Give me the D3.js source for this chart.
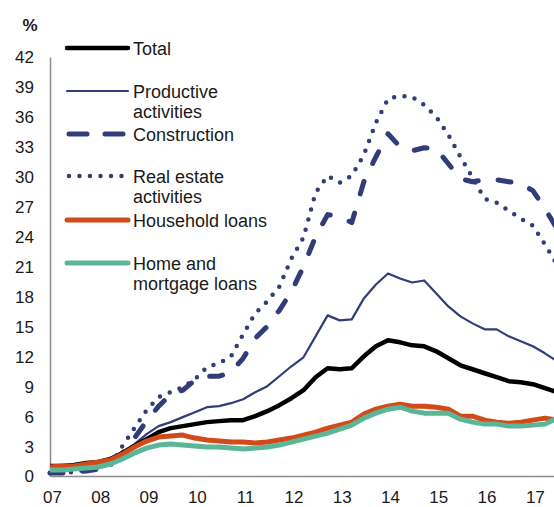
<!DOCTYPE html>
<html>
<head>
<meta charset="utf-8">
<script src="https://cdn.jsdelivr.net/npm/d3@7"></script>
<style>
  body { margin: 0; background: #fff; }
  svg text { font-family: "Liberation Sans", Arial, sans-serif; fill: #1a1a1a; }
</style>
</head>
<body>
<div id="chart"></div>
<script>
// quarterly data, 2007Q1 .. 2017Q3
var yearLabels = ["07", "08", "09", "10", "11", "12", "13", "14", "15", "16", "17"];
var yTicks = [0, 3, 6, 9, 12, 15, 18, 21, 24, 27, 30, 33, 36, 39, 42];

var total = [1.0, 1.0, 1.1, 1.3, 1.4, 1.7, 2.3, 3.0, 3.7, 4.4, 4.8, 5.0, 5.2, 5.4, 5.5, 5.6,
  5.6, 6.0, 6.5, 7.1, 7.8, 8.6, 9.9, 10.8, 10.7, 10.8, 12.0, 13.0, 13.6, 13.4, 13.1, 13.0,
  12.5, 11.8, 11.1, 10.7, 10.3, 9.9, 9.5, 9.4, 9.2, 8.8, 8.4];
var productive = [0.9, 0.9, 1.0, 1.2, 1.4, 1.7, 2.4, 3.2, 4.2, 5.0, 5.4, 5.9, 6.4, 6.9, 7.0, 7.3,
  7.7, 8.4, 9.0, 10.0, 11.0, 11.9, 14.0, 16.1, 15.6, 15.7, 17.8, 19.2, 20.3, 19.8, 19.4, 19.6,
  18.3, 17.0, 16.0, 15.3, 14.7, 14.7, 14.0, 13.5, 13.0, 12.3, 11.5];
var construction = [0.3, 0.3, 0.4, 0.5, 0.7, 1.2, 2.3, 3.8, 5.5, 7.0, 8.2, 8.6, 9.6, 10.0, 10.0, 10.4,
  11.8, 13.8, 15.0, 16.6, 18.5, 21.0, 24.0, 26.2, 26.0, 25.4, 29.5, 32.0, 34.3, 33.0, 32.6, 32.9,
  32.8, 31.3, 29.8, 29.5, 29.7, 29.7, 29.5, 29.3, 28.6, 26.8, 24.8];
var realEstate = [0.3, 0.3, 0.4, 0.6, 1.0, 1.0, 3.0, 4.8, 6.6, 7.9, 8.4, 8.9, 9.7, 10.9, 11.3, 12.0,
  14.2, 16.3, 17.5, 19.0, 21.8, 23.9, 28.4, 30.1, 29.4, 30.1, 32.2, 35.4, 37.8, 38.1, 38.0, 37.2,
  36.0, 34.2, 32.0, 29.9, 27.8, 27.4, 26.6, 25.8, 25.1, 23.2, 21.2];
var household = [0.9, 1.0, 1.0, 1.2, 1.4, 1.6, 2.2, 2.9, 3.5, 3.9, 4.0, 4.1, 3.8, 3.6, 3.5, 3.4,
  3.4, 3.3, 3.4, 3.6, 3.8, 4.1, 4.4, 4.8, 5.1, 5.4, 6.2, 6.7, 7.0, 7.2, 7.0, 7.0,
  6.9, 6.7, 6.0, 6.0, 5.6, 5.4, 5.3, 5.4, 5.6, 5.8, 5.6];
var homeMortgage = [0.6, 0.6, 0.7, 0.8, 0.9, 1.2, 1.7, 2.3, 2.8, 3.1, 3.2, 3.1, 3.0, 2.9, 2.9, 2.8,
  2.7, 2.8, 2.9, 3.1, 3.4, 3.7, 4.0, 4.3, 4.7, 5.1, 5.8, 6.3, 6.7, 6.9, 6.5, 6.3,
  6.3, 6.3, 5.7, 5.4, 5.2, 5.2, 5.0, 5.0, 5.1, 5.2, 5.8];

var navy = "#323c78", orange = "#d24a18", green = "#5bb597";

var series = [
  { name: ["Real estate", "activities"], values: realEstate, color: navy, width: 4.5, dash: "0,10.5", legendY: 176 },
  { name: ["Construction"], values: construction, color: navy, width: 5, dash: "13,20", legendY: 134 },
  { name: ["Productive", "activities"], values: productive, color: navy, width: 2.2, dash: null, legendY: 91 },
  { name: ["Total"], values: total, color: "#000", width: 4.5, dash: null, legendY: 48 },
  { name: ["Household loans"], values: household, color: orange, width: 5, dash: null, legendY: 220 },
  { name: ["Home and", "mortgage loans"], values: homeMortgage, color: green, width: 5, dash: null, legendY: 263 }
];

var width = 554, height = 507;
var svg = d3.select("#chart").append("svg")
  .attr("width", width)
  .attr("height", height);

var x = d3.scaleLinear().domain([0, 42]).range([50, 557]);
var y = d3.scaleLinear().domain([0, 42]).range([476, 57]);

// axes
var yAxis = svg.append("g")
  .attr("transform", "translate(" + x(0) + ",0)")
  .call(d3.axisLeft(y).tickValues(yTicks).tickSize(0).tickPadding(16));
yAxis.select(".domain").attr("stroke", "#8c8c8c").attr("stroke-width", 1.5);
yAxis.selectAll("text").style("font-size", "17px").attr("dy", "0.35em");

var xAxis = svg.append("g")
  .attr("transform", "translate(0," + y(0) + ")")
  .call(d3.axisBottom(x)
    .tickValues(d3.range(0, 44, 4))
    .tickFormat(function (d, i) { return yearLabels[i]; })
    .tickSize(0).tickPadding(15));
xAxis.select(".domain").attr("stroke", "#8c8c8c").attr("stroke-width", 1.5);
xAxis.selectAll("text").style("font-size", "17px").attr("dx", 2);

svg.append("text")
  .attr("x", 30).attr("y", 31)
  .attr("text-anchor", "middle")
  .style("font-size", "17px")
  .style("font-weight", "bold")
  .text("%");

var line = d3.line()
  .x(function (d, i) { return x(i); })
  .y(function (d) { return y(d); });

svg.append("g").selectAll("path")
  .data(series)
  .enter().append("path")
  .attr("d", function (d) { return line(d.values); })
  .attr("fill", "none")
  .attr("stroke", function (d) { return d.color; })
  .attr("stroke-width", function (d) { return d.width; })
  .attr("stroke-dasharray", function (d) { return d.dash; })
  .attr("stroke-linecap", function (d) { return d.dash ? "round" : "butt"; })
  .attr("stroke-linejoin", "round");

// legend
var legend = svg.append("g").selectAll("g")
  .data(series)
  .enter().append("g")
  .attr("transform", function (d) { return "translate(0," + d.legendY + ")"; });

legend.append("line")
  .attr("x1", function (d) { return d.dash ? 69 : 67; })
  .attr("x2", 128)
  .attr("stroke", function (d) { return d.color; })
  .attr("stroke-width", function (d) { return d.width; })
  .attr("stroke-dasharray", function (d) { return d.dash && d.dash[0] !== "0" ? "18,18" : d.dash; })
  .attr("stroke-linecap", "round");

legend.append("text")
  .attr("x", 133)
  .style("font-size", "18px")
  .selectAll("tspan")
  .data(function (d) { return d.name; })
  .enter().append("tspan")
  .attr("x", 133)
  .attr("y", function (d, i) { return 7 + i * 20; })
  .text(function (d) { return d; });
</script>
</body>
</html>
